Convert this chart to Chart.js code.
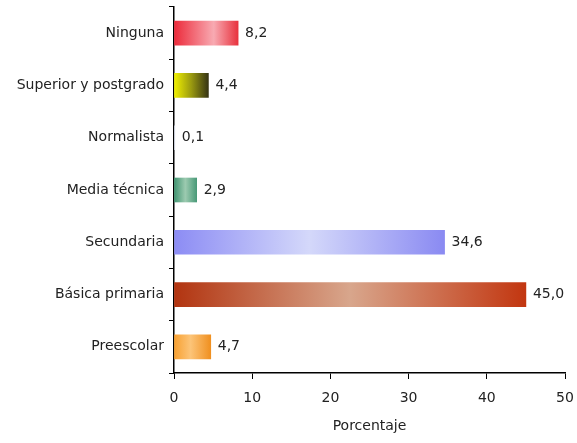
<!DOCTYPE html>
<html>
<head>
<meta charset="utf-8">
<script src="https://cdn.jsdelivr.net/npm/chart.js@4/dist/chart.umd.min.js"></script>
<style>
  html, body { margin: 0; padding: 0; background: #fff; }
  #wrap { width: 577px; height: 443px; }
</style>
</head>
<body>
<div id="wrap"><canvas id="chart"></canvas></div>
<script>
// Niveles educativos (de arriba hacia abajo)
const categories = ['Ninguna', 'Superior y postgrado', 'Normalista', 'Media técnica', 'Secundaria', 'Básica primaria', 'Preescolar'];
const values = [8.2, 4.4, 0.1, 2.9, 34.6, 45.0, 4.7];
const xTicks = [0, 10, 20, 30, 40, 50];

// gradient stops per bar, left to right
const barGradients = [
    ['#ec2a3a', '#f8aab2', '#e8323e'],
    ['#f2f200', '#9a9a10', '#363414'],
    ['#d8dce8', '#e8eaf2', '#d8dce8'],
    ['#3f9470', '#9ccab0', '#4a9a78'],
    ['#8c8cf4', '#d4d8fa', '#8a8af2'],
    ['#b23410', '#d8a68c', '#c23610'],
    ['#f8a030', '#fcc478', '#f09020']
];
const midStop = [0.62, 0.5, 0.5, 0.5, 0.5, 0.5, 0.45];

const FONT = 'Tahoma, "DejaVu Sans", sans-serif';

function barFill(context) {
    const chart = context.chart;
    const x = chart.scales.x;
    const grads = barGradients[context.dataIndex];
    if (!chart.chartArea || !x) return grads[0];
    const x0 = x.getPixelForValue(0);
    const x1 = x.getPixelForValue(values[context.dataIndex]);
    if (x1 - x0 < 1) return grads[0];
    const g = chart.ctx.createLinearGradient(x0, 0, x1, 0);
    g.addColorStop(0, grads[0]);
    g.addColorStop(midStop[context.dataIndex], grads[1]);
    g.addColorStop(1, grads[2]);
    return g;
}

// draws "8,2" style labels at the end of each bar
const valueLabels = {
    id: 'valueLabels',
    afterDatasetsDraw(chart) {
        const ctx = chart.ctx;
        const meta = chart.getDatasetMeta(0);
        ctx.save();
        ctx.font = '14px ' + FONT;
        ctx.fillStyle = '#222';
        ctx.textBaseline = 'middle';
        ctx.textAlign = 'left';
        meta.data.forEach((bar, i) => {
            ctx.fillText(values[i].toFixed(1).replace('.', ','), bar.x + 7, bar.y);
        });
        ctx.restore();
    }
};

new Chart(document.getElementById('chart'), {
    type: 'bar',
    data: {
        labels: categories,
        datasets: [{
            data: values,
            backgroundColor: barFill,
            borderWidth: 0,
            barThickness: 24
        }]
    },
    options: {
        indexAxis: 'y',
        responsive: true,
        maintainAspectRatio: false,
        animation: false,
        layout: { padding: { top: 7, right: 12, left: 0, bottom: 4 } },
        scales: {
            x: {
                min: 0,
                max: 50,
                afterBuildTicks: axis => { axis.ticks = xTicks.map(v => ({ value: v })); },
                grid: { drawOnChartArea: false, drawTicks: true, tickLength: 6, color: '#000', tickWidth: 1 },
                border: { color: '#000', width: 1.5 },
                ticks: { color: '#222', font: { family: FONT, size: 14 }, padding: 11 },
                title: { display: true, text: 'Porcentaje', color: '#222', font: { family: FONT, size: 14 }, padding: { top: 4 } },
                afterFit: axis => {
                    axis.height = 66;
                    axis.paddingLeft = 0;
                    axis.paddingRight = 0;
                }
            },
            y: {
                grid: { offset: true, drawOnChartArea: false, drawTicks: true, tickLength: 5, color: '#000' },
                border: { color: '#000', width: 1.5 },
                ticks: { color: '#222', font: { family: FONT, size: 14 }, padding: 5 },
                afterFit: axis => {
                    axis.width = 174;
                    axis.paddingTop = 0;
                    axis.paddingBottom = 0;
                }
            }
        },
        plugins: {
            legend: { display: false },
            tooltip: { enabled: false }
        }
    },
    plugins: [valueLabels]
});
</script>
</body>
</html>
